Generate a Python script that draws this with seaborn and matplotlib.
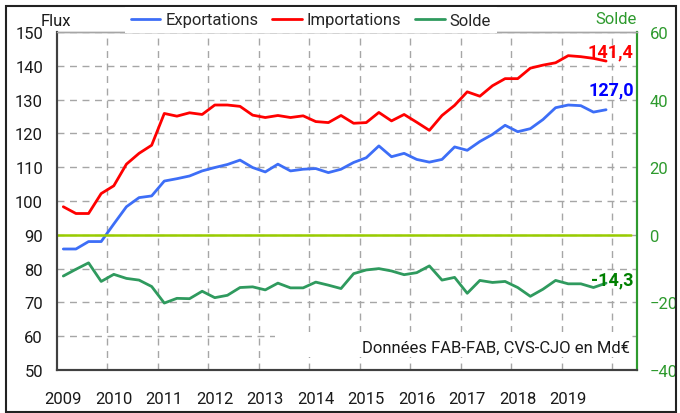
import numpy as np
import pandas as pd
import matplotlib
matplotlib.use("Agg")
import matplotlib.pyplot as plt
from matplotlib.lines import Line2D
from matplotlib.patches import Rectangle
import seaborn as sns

# quarterly values, 2009Q1 .. 2019Q4 (Md€)
years = list(range(2009, 2020))
exportations = [85.8, 85.8, 88.0, 88.0, 93.2, 98.3, 101.0, 101.5, 105.9, 106.6, 107.4, 108.9,
                109.9, 110.8, 112.1, 109.9, 108.6, 110.9, 108.9, 109.4, 109.6, 108.4, 109.4, 111.4,
                112.8, 116.3, 113.1, 114.1, 112.3, 111.5, 112.3, 116.0, 115.0, 117.6, 119.7, 122.4,
                120.5, 121.4, 124.1, 127.6, 128.4, 128.2, 126.3, 127.0]
importations = [98.3, 96.3, 96.3, 102.2, 104.5, 110.9, 114.1, 116.5, 125.9, 125.1, 126.1, 125.6,
                128.4, 128.4, 128.0, 125.4, 124.7, 125.3, 124.7, 125.2, 123.5, 123.2, 125.3, 123.0,
                123.2, 126.2, 123.7, 125.6, 123.3, 120.9, 125.3, 128.3, 132.3, 131.0, 134.1, 136.2,
                136.2, 139.3, 140.2, 140.9, 143.0, 142.7, 142.2, 141.4]
solde = [-12.2, -10.2, -8.3, -13.8, -11.7, -12.9, -13.4, -15.3, -20.2, -18.8, -18.9, -16.7,
         -18.6, -17.9, -15.6, -15.4, -16.3, -14.3, -15.7, -15.7, -14.0, -14.9, -15.9, -11.5,
         -10.4, -10.0, -10.7, -11.8, -11.2, -9.2, -13.4, -12.6, -17.3, -13.5, -14.1, -13.8,
         -15.6, -18.2, -16.1, -13.5, -14.5, -14.5, -15.6, -14.3]

df = pd.DataFrame({"q": np.arange(len(exportations)), "Exportations": exportations,
                   "Importations": importations, "Solde": solde})

BLUE = "#3d6ef7"
RED = "#ff0000"
GREEN = "#2f9a5e"
AXGREEN = "#2e9a2e"

sns.set_style("white")
plt.rcParams["font.family"] = ["Roboto", "DejaVu Sans"]
plt.rcParams["font.size"] = 12

fig = plt.figure(figsize=(6.8, 4.14), dpi=100)
ax = fig.add_axes([57 / 680, 1 - 371 / 414, 580 / 680, 338 / 414])
ax2 = ax.twinx()

sns.lineplot(data=df, x="q", y="Exportations", ax=ax, color=BLUE, lw=2.0, zorder=3)
sns.lineplot(data=df, x="q", y="Importations", ax=ax, color=RED, lw=2.0, zorder=3)
sns.lineplot(data=df, x="q", y="Solde", ax=ax2, color=GREEN, lw=2.0, zorder=3)
ax2.axhline(0, xmin=0, xmax=0.99, color="#99cc00", lw=1.8, zorder=2)

ax.set_xlim(-0.5, 45.45)
ax.set_ylim(50, 150)
ax2.set_ylim(-40, 60)
ax.set_yticks(range(50, 151, 10))
ax2.set_yticks(range(-40, 61, 20))
ax.set_xticks([4 * i for i in range(len(years))])
ax.set_xticklabels([str(y) for y in years])
ax.set_xticks([4 * i + 3.5 for i in range(len(years))], minor=True)
ax.set_xlabel("")
ax.set_ylabel("")
ax2.set_ylabel("")

ax.set_axisbelow(True)
ax.grid(axis="y", which="major", color="#a6a6a6", ls=(0, (5, 4)), lw=1)
ax.grid(axis="x", which="minor", color="#a6a6a6", ls=(0, (5, 4)), lw=1)
ax.tick_params(axis="x", which="both", length=0, pad=15, labelsize=12, colors="#1a1a1a")
ax.tick_params(axis="y", length=0, pad=10, labelsize=12, colors="#1a1a1a")
ax2.tick_params(axis="y", length=0, pad=9, labelsize=12, colors=AXGREEN)

for a in (ax, ax2):
    a.spines["left"].set_color("#404040")
    a.spines["bottom"].set_color("#404040")
    a.spines["left"].set_linewidth(1.5)
    a.spines["bottom"].set_linewidth(1.5)
    a.spines["top"].set_color("#a6a6a6")
    a.spines["top"].set_linewidth(1)
    a.spines["right"].set_color(AXGREEN)
    a.spines["right"].set_linewidth(1.5)

# note box
ax.add_patch(Rectangle((16.8, 53.8), 28.1, 7.5, facecolor="white", edgecolor="none", zorder=1))
ax.text(44.9, 56.8, "Données FAB-FAB, CVS-CJO en Md€", ha="right", va="center",
        fontsize=12, color="#1a1a1a", zorder=4)

# end labels
last = len(exportations) - 1
fmt = lambda v: f"{v:.1f}".replace(".", ",")
ax.text(last + 2.2, importations[-1] + 2.8, fmt(importations[-1]), color=RED,
        fontweight="bold", fontsize=13, ha="right", va="center", zorder=5)
ax.text(last + 2.2, exportations[-1] + 5.9, fmt(exportations[-1]), color="#0000ff",
        fontweight="bold", fontsize=13, ha="right", va="center", zorder=5)
ax2.text(last + 2.2, solde[-1] + 1.2, fmt(solde[-1]), color="#008000",
         fontweight="bold", fontsize=13, ha="right", va="center", zorder=5)

fig.text(41 / 680, 1 - 22 / 414, "Flux", ha="left", va="center", fontsize=12, color="#1a1a1a")
fig.text(637 / 680, 1 - 20 / 414, "Solde", ha="right", va="center", fontsize=12, color=AXGREEN)

handles = [Line2D([], [], color=BLUE, lw=2), Line2D([], [], color=RED, lw=2),
           Line2D([], [], color=GREEN, lw=2)]
leg = fig.legend(handles, ["Exportations", "Importations", "Solde"], loc="center",
                 bbox_to_anchor=(311 / 680, 1 - 21 / 414), ncol=3, frameon=True,
                 fontsize=12, handlelength=1.75, handletextpad=0.3, columnspacing=0.85,
                 borderpad=0.35, fancybox=False)
leg.get_frame().set_facecolor("white")
leg.get_frame().set_edgecolor("none")
leg.get_frame().set_alpha(1)

fig.add_artist(Rectangle((6 / 680, 1 / 414), 670 / 680, 406 / 414, transform=fig.transFigure,
                         fill=False, edgecolor="#222222", lw=1.5))

fig.savefig("out.png", dpi=100)
